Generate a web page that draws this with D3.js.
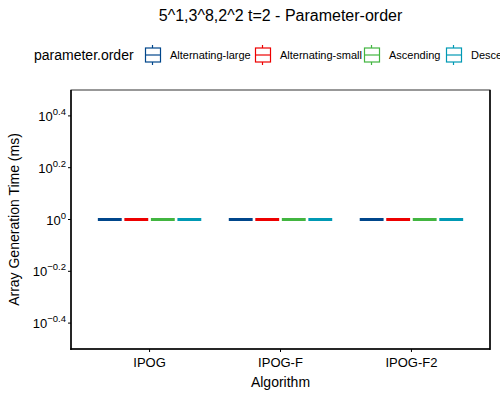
<!DOCTYPE html>
<html lang="en">
<head>
<meta charset="utf-8">
<script src="https://d3js.org/d3.v7.min.js"></script>
<style>
    body { margin: 0; background: white; }
    text { font-family: "Liberation Sans", Arial, sans-serif; fill: black; }
</style>
</head>
<body>
<script>
    // data
    const algorithms = ['IPOG', 'IPOG-F', 'IPOG-F2'];
    const orders = ['Alternating-large', 'Alternating-small', 'Ascending', 'Descending'];
    const colours = ['#00468B', '#ED0000', '#42B540', '#0099B4'];
    // every box collapsed at 1 ms (min = q1 = median = q3 = max)
    const medianTimes = [
        [1, 1, 1, 1],
        [1, 1, 1, 1],
        [1, 1, 1, 1]
    ];
    const yTickExps = [-0.4, -0.2, 0, 0.2, 0.4];

    const W = 500, H = 400;
    const panel = {left: 71, right: 490, top: 90, bottom: 349};

    let svg = d3.select('body').append('svg')
        .attr('width', W).attr('height', H);

    let x = d3.scalePoint().domain(algorithms)
        .range([panel.left, panel.right]).padding(0.6);
    let y = d3.scaleLog().domain([Math.pow(10, -0.5), Math.pow(10, 0.5)])
        .range([panel.bottom, panel.top]);
    let unit = x.step();
    let dodge = d3.scaleBand().domain(orders)
        .range([-0.395 * unit, 0.395 * unit]).paddingInner(0.1);

    // panel border
    svg.append('rect')
        .attr('x', panel.left).attr('y', panel.top)
        .attr('width', panel.right - panel.left).attr('height', panel.bottom - panel.top)
        .attr('fill', 'none').attr('stroke', '#333').attr('stroke-width', 1);
    svg.append('line')
        .attr('x1', panel.right).attr('x2', panel.right)
        .attr('y1', panel.top).attr('y2', panel.bottom + 1)
        .attr('stroke', 'black').attr('stroke-width', 1.5);

    // boxes (flattened)
    algorithms.forEach(function (alg, i) {
        svg.append('g').selectAll('line')
            .data(orders)
            .enter().append('line')
            .attr('x1', d => x(alg) + dodge(d))
            .attr('x2', d => x(alg) + dodge(d) + dodge.bandwidth())
            .attr('y1', (d, j) => y(medianTimes[i][j]))
            .attr('y2', (d, j) => y(medianTimes[i][j]))
            .attr('stroke', (d, j) => colours[j])
            .attr('stroke-width', 3);
    });

    // y axis
    let yAxis = svg.append('g');
    yAxis.append('line')
        .attr('x1', panel.left).attr('x2', panel.left)
        .attr('y1', panel.top).attr('y2', panel.bottom + 1)
        .attr('stroke', 'black').attr('stroke-width', 1.5);
    let yt = yAxis.selectAll('g.tick').data(yTickExps).enter().append('g')
        .attr('transform', d => 'translate(0,' + y(Math.pow(10, d)) + ')');
    yt.append('line').attr('x1', panel.left - 3).attr('x2', panel.left)
        .attr('stroke', 'black');
    let lab = yt.append('text')
        .attr('x', panel.left - 5).attr('y', 5)
        .attr('text-anchor', 'end').style('font-size', '13px');
    lab.append('tspan').text('10');
    lab.append('tspan').attr('dy', -6).style('font-size', '9.5px')
        .text(d => d === 0 ? '0' : d3.format('.1f')(d).replace('-', '-'));

    // x axis
    let xAxis = svg.append('g');
    xAxis.append('line')
        .attr('x1', panel.left - 0.75).attr('x2', panel.right)
        .attr('y1', panel.bottom).attr('y2', panel.bottom)
        .attr('stroke', 'black').attr('stroke-width', 1.5);
    let xt = xAxis.selectAll('g.tick').data(algorithms).enter().append('g')
        .attr('transform', d => 'translate(' + x(d) + ',0)');
    xt.append('line').attr('y1', panel.bottom).attr('y2', panel.bottom + 3)
        .attr('stroke', 'black');
    xt.append('text').attr('y', panel.bottom + 18)
        .attr('text-anchor', 'middle').style('font-size', '13px')
        .text(d => d);

    // axis titles
    svg.append('text').attr('x', (panel.left + panel.right) / 2).attr('y', 387)
        .attr('text-anchor', 'middle').style('font-size', '14px').text('Algorithm');
    svg.append('text')
        .attr('transform', 'translate(19,' + (panel.top + panel.bottom) / 2 + ') rotate(-90)')
        .attr('text-anchor', 'middle').style('font-size', '14px')
        .text('Array Generation Time (ms)');

    // title
    svg.append('text').attr('x', (panel.left + panel.right) / 2).attr('y', 21)
        .attr('text-anchor', 'middle').style('font-size', '16px')
        .text('5^1,3^8,2^2 t=2 - Parameter-order');

    // legend
    let legend = svg.append('g');
    legend.append('text').attr('x', 34).attr('y', 60)
        .style('font-size', '14px').text('parameter.order');
    const keyX = [145, 255, 364, 446];
    let keys = legend.selectAll('g.key').data(orders).enter().append('g')
        .attr('transform', (d, i) => 'translate(' + keyX[i] + ',0)');
    keys.append('line').attr('x1', 7.5).attr('x2', 7.5).attr('y1', 45).attr('y2', 65)
        .attr('stroke', (d, i) => colours[i]).attr('stroke-width', 1.2);
    keys.append('rect').attr('x', 0.5).attr('y', 48).attr('width', 15).attr('height', 14)
        .attr('fill', 'white').attr('stroke', (d, i) => colours[i]).attr('stroke-width', 1.2);
    keys.append('line').attr('x1', 0.5).attr('x2', 15.5).attr('y1', 55).attr('y2', 55)
        .attr('stroke', (d, i) => colours[i]).attr('stroke-width', 1.2);
    keys.append('text').attr('x', 25).attr('y', 59)
        .style('font-size', '11px').text(d => d);
</script>
</body>
</html>
